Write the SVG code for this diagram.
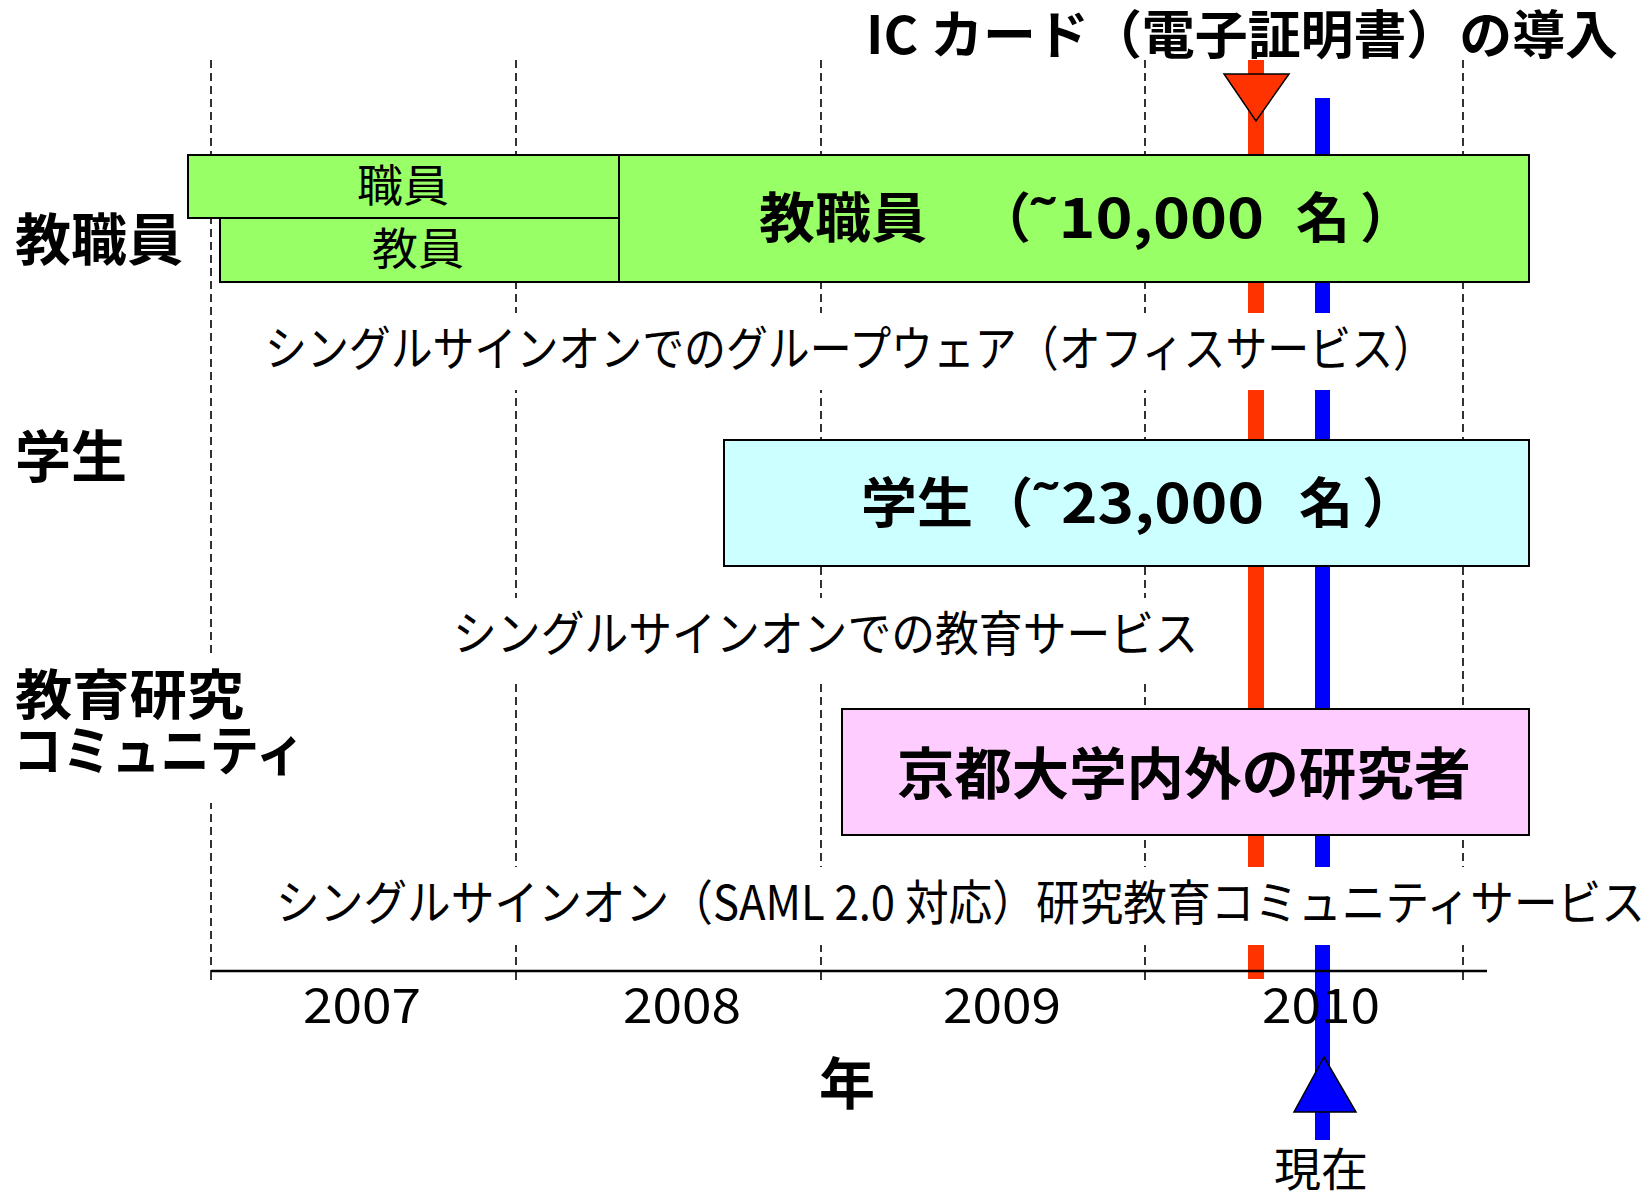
<svg xmlns="http://www.w3.org/2000/svg" width="1651" height="1192" viewBox="0 0 1651 1192">
<style>
  text { font-family: "Noto Sans CJK JP", "Noto Sans", sans-serif; fill: #000; }
  .b { font-weight: bold; }
  .dash { stroke: #000; stroke-width: 1.6; stroke-dasharray: 8 5; fill: none; }
  .tick { stroke: #000; stroke-width: 1.6; }
  .box { stroke: #000; stroke-width: 2; }
  .green { fill: #99FF66; }
  .cyan { fill: #CCFFFF; }
  .pink { fill: #FFCCFF; }
  .red { fill: #FF3300; }
  .blue { fill: #0000FF; }
  .mask { fill: #FFFFFF; stroke: none; }
</style>
<rect width="1651" height="1192" fill="#FFFFFF"/>

<g id="grid">
  <line class="dash" x1="211" y1="60" x2="211" y2="971"/>
  <line class="dash" x1="516" y1="60" x2="516" y2="971"/>
  <line class="dash" x1="821" y1="60" x2="821" y2="971"/>
  <line class="dash" x1="1145" y1="60" x2="1145" y2="971"/>
  <line class="dash" x1="1463" y1="60" x2="1463" y2="971"/>
  <line class="tick" x1="211" y1="971" x2="211" y2="980"/>
  <line class="tick" x1="516" y1="971" x2="516" y2="980"/>
  <line class="tick" x1="821" y1="971" x2="821" y2="980"/>
  <line class="tick" x1="1145" y1="971" x2="1145" y2="980"/>
  <line class="tick" x1="1463" y1="971" x2="1463" y2="980"/>
</g>

<g id="connectors">
  <rect class="red" x="1248" y="60" width="16" height="919"/>
  <rect class="blue" x="1315" y="98" width="15" height="1042"/>
</g>

<g id="masks">
  <rect class="mask" x="240" y="313" width="1200" height="77"/>
  <rect class="mask" x="440" y="598" width="770" height="81"/>
  <rect class="mask" x="250" y="867" width="1401" height="78"/>
  <rect class="mask" x="0" y="655" width="305" height="148"/>
</g>

<g id="axis">
  <line x1="211" y1="971" x2="1487" y2="971" stroke="#000" stroke-width="2.5"/>
  <text x="303" y="1023" font-size="48" textLength="118" lengthAdjust="spacingAndGlyphs">2007</text>
  <text x="623" y="1023" font-size="48" textLength="118" lengthAdjust="spacingAndGlyphs">2008</text>
  <text x="943" y="1023" font-size="48" textLength="118" lengthAdjust="spacingAndGlyphs">2009</text>
  <text x="1262" y="1023" font-size="48" textLength="118" lengthAdjust="spacingAndGlyphs">2010</text>
  <text class="b" x="819" y="1104" font-size="56">年</text>
</g>

<g id="title">
  <text class="b" x="866" y="54" font-size="52" textLength="752" lengthAdjust="spacingAndGlyphs">IC カード（電子証明書）の導入</text>
  <polygon points="1224,74 1289,74 1256,121" fill="#FF3300" stroke="#000" stroke-width="1.5"/>
</g>

<g id="now">
  <polygon points="1324,1057 1294,1112 1356,1112" fill="#0000FF" stroke="#000" stroke-width="1.5"/>
  <text x="1274" y="1186" font-size="46" textLength="94" lengthAdjust="spacingAndGlyphs">現在</text>
</g>

<g id="labels">
  <text class="b" x="15" y="260" font-size="56" textLength="168" lengthAdjust="spacingAndGlyphs">教職員</text>
  <text class="b" x="15" y="477" font-size="56" textLength="112" lengthAdjust="spacingAndGlyphs">学生</text>
  <text class="b" font-size="54"><tspan x="15" y="715" textLength="229" lengthAdjust="spacingAndGlyphs">教育研究</tspan><tspan x="13" y="771" textLength="292" lengthAdjust="spacingAndGlyphs">コミュニティ</tspan></text>
</g>

<g id="node-staff">
  <rect class="box green" x="188" y="155" width="431" height="63"/>
  <text x="357" y="202" font-size="44" textLength="92" lengthAdjust="spacingAndGlyphs">職員</text>
</g>
<g id="node-faculty">
  <rect class="box green" x="220" y="218" width="399" height="64"/>
  <text x="372" y="265" font-size="44" textLength="92" lengthAdjust="spacingAndGlyphs">教員</text>
</g>
<g id="node-all-staff">
  <rect class="box green" x="619" y="155" width="910" height="127"/>
  <text class="b" font-size="54" y="238"><tspan x="759" textLength="168" lengthAdjust="spacingAndGlyphs">教職員</tspan><tspan x="977">（</tspan><tspan x="1028" textLength="236" lengthAdjust="spacingAndGlyphs">˜10,000</tspan><tspan x="1296">名</tspan><tspan x="1360">）</tspan></text>
</g>

<g id="node-students">
  <rect class="box cyan" x="724" y="440" width="805" height="126"/>
  <text class="b" font-size="54" y="523"><tspan x="861" textLength="112" lengthAdjust="spacingAndGlyphs">学生</tspan><tspan x="979">（</tspan><tspan x="1031" textLength="233" lengthAdjust="spacingAndGlyphs">˜23,000</tspan><tspan x="1299">名</tspan><tspan x="1362">）</tspan></text>
</g>

<g id="node-researchers">
  <rect class="box pink" x="842" y="709" width="687" height="126"/>
  <text class="b" x="897" y="794" font-size="56" textLength="574" lengthAdjust="spacingAndGlyphs">京都大学内外の研究者</text>
</g>

<g id="services">
  <text x="265" y="366" font-size="48" textLength="1170" lengthAdjust="spacingAndGlyphs">シングルサインオンでのグループウェア（オフィスサービス）</text>
  <text x="453" y="651" font-size="48" textLength="745" lengthAdjust="spacingAndGlyphs">シングルサインオンでの教育サービス</text>
  <text x="276" y="920" font-size="48" textLength="1369" lengthAdjust="spacingAndGlyphs">シングルサインオン（SAML 2.0 対応）研究教育コミュニティサービス</text>
</g>
</svg>
